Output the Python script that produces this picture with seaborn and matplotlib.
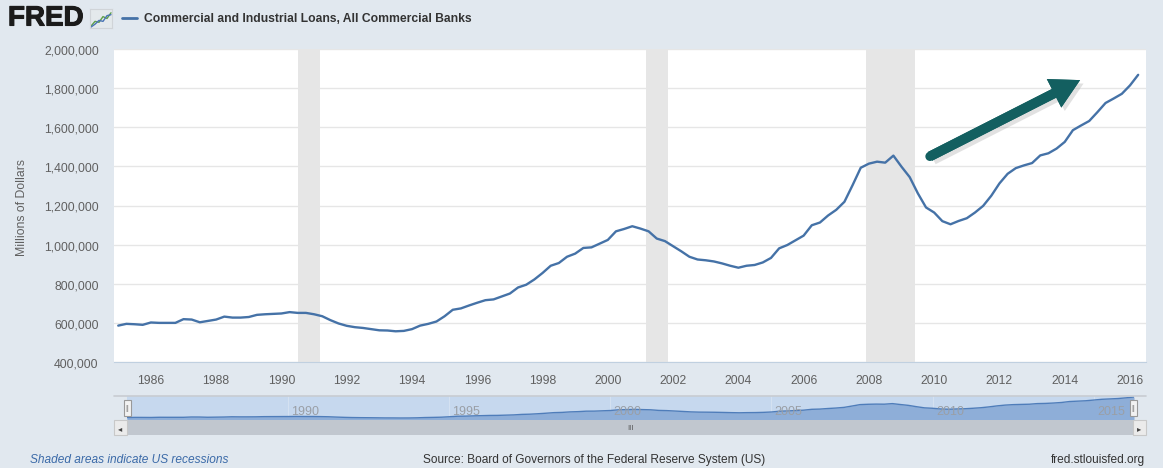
import numpy as np
import pandas as pd
import matplotlib
matplotlib.use("Agg")
import matplotlib.pyplot as plt
import seaborn as sns
from matplotlib import font_manager
from matplotlib.patches import Rectangle
from matplotlib.lines import Line2D
import matplotlib.patheffects as pe

# C&I loans, quarterly, millions of dollars (in thousands)
start_year = 1985
loans_k = [
    586, 595, 593, 590,      # 1985
    602, 600, 600, 600,      # 1986
    619, 617, 603, 610,      # 1987
    617, 632, 627, 627,      # 1988
    630, 641, 644, 646,      # 1989
    648, 655, 651, 651,      # 1990
    644, 634, 614, 597,      # 1991
    585, 578, 574, 568,      # 1992
    562, 561, 557, 559,      # 1993
    568, 586, 595, 607,      # 1994
    634, 667, 674, 689,      # 1995
    703, 716, 720, 735,      # 1996
    750, 781, 795, 822,      # 1997
    855, 892, 906, 938,      # 1998
    954, 983, 986, 1005,     # 1999
    1024, 1068, 1080, 1094,  # 2000
    1082, 1068, 1031, 1018,  # 2001
    992, 966, 938, 924,      # 2002
    920, 914, 904, 892,      # 2003
    882, 892, 896, 909,      # 2004
    932, 981, 998, 1022,     # 2005
    1046, 1099, 1113, 1149,  # 2006
    1178, 1219, 1304, 1393,  # 2007
    1414, 1424, 1419, 1455,  # 2008
    1398, 1345, 1262, 1190,  # 2009
    1164, 1120, 1104, 1121,  # 2010
    1135, 1164, 1198, 1250,  # 2011
    1313, 1362, 1391, 1405,  # 2012
    1417, 1456, 1467, 1491,  # 2013
    1525, 1585, 1609, 1632,  # 2014
    1677, 1724, 1747, 1771,  # 2015
    1814, 1868,              # 2016
]
recessions = [(1990.5, 1991.17), (2001.17, 2001.83), (2007.92, 2009.42)]
x_ticks = list(range(1986, 2017, 2))
y_ticks = list(range(400000, 2000001, 200000))
nav_ticks = [1990, 1995, 2000, 2005, 2010, 2015]
logo_a = [0.1, 0.35, 0.3, 0.6, 0.5, 0.8]
logo_b = [0.05, 0.2, 0.4, 0.35, 0.65, 0.7]

df = pd.DataFrame({
    "year": start_year + np.arange(len(loans_k)) * 0.25,
    "loans": np.array(loans_k) * 1000,
})

sns.set_style("white")
avail = {f.name for f in font_manager.fontManager.ttflist}
base_font = "Liberation Sans" if "Liberation Sans" in avail else "DejaVu Sans"
narrow_ok = "Liberation Sans Narrow" in avail
narrow_font = "Liberation Sans Narrow" if narrow_ok else base_font
plt.rcParams["font.family"] = [base_font, "DejaVu Sans"]

W, H = 1163, 477
BG = "#e1e8ef"
LINE = "#4572a7"
ARROW = "#135f60"
fig = plt.figure(figsize=(W / 100, H / 100), dpi=100, facecolor=BG)


def box(x0, y0, x1, y1):
    # pixel box (top-left origin) -> figure fraction rect
    return [x0 / W, 1 - y1 / H, (x1 - x0) / W, (y1 - y0) / H]


# === main chart ===
ax = fig.add_axes(box(114, 50, 1146, 363))
ax.set_facecolor("white")
for a, b in recessions:
    ax.axvspan(a, b, color="#e6e6e6", lw=0, zorder=0)
sns.lineplot(data=df, x="year", y="loans", ax=ax, color=LINE, linewidth=1.7, zorder=3)
ax.set_xlim(1984.87, 2016.49)
ax.set_ylim(400000, 2000000)
ax.set_xticks(x_ticks)
ax.set_yticks(y_ticks)
ax.set_yticklabels([f"{v:,}" for v in y_ticks])
ax.yaxis.grid(True, color="#e6e6e6", lw=1)
ax.xaxis.grid(False)
for s in ["left", "right", "top"]:
    ax.spines[s].set_visible(False)
ax.spines["bottom"].set_color("#c0d0e0")
ax.tick_params(axis="x", length=6, color="#c0d0e0", labelsize=8.8, labelcolor="#606060", pad=3)
ax.tick_params(axis="y", length=0, labelsize=8.8, labelcolor="#606060", pad=11)
ax.set_xlabel("")
ax.set_ylabel("")
fig.text(22 / W, 1 - 207 / H, "Millions of Dollars", rotation=90, ha="center", va="center",
         fontsize=8.8, color="#606060")

# arrow (filled shape + round tail cap), with a soft drop shadow
shadow = [pe.withSimplePatchShadow(offset=(2.5, -2.5), shadow_rgbFace="#7a7a7a", alpha=0.22),
          pe.Normal()]
tail = (2009.87, 1451000)
tip = (2014.47, 1841000)
ax.annotate("", xy=tip, xytext=tail,
            arrowprops=dict(arrowstyle="simple,head_length=2.1,head_width=2.3,tail_width=0.7",
                            facecolor=ARROW, edgecolor="none", lw=0, mutation_scale=10,
                            shrinkA=0, shrinkB=0, path_effects=shadow),
            zorder=5)
ax.plot([tail[0]], [tail[1]], marker="o", markersize=6.6, color=ARROW, mew=0, zorder=5,
        path_effects=[pe.SimpleLineShadow(offset=(2.5, -2.5), shadow_color="#7a7a7a", alpha=0.22),
                      pe.Normal()])

# === navigator ===
nav = fig.add_axes(box(127, 397, 1134, 421))
nav.set_facecolor("#c6d8ee")
ylo, yhi = 432000, 1930000
nav.fill_between(df["year"], df["loans"], ylo, color="#8eaed8", lw=0)
sns.lineplot(data=df, x="year", y="loans", ax=nav, color="#4f7dba", linewidth=1)
nav.set_xlim(df["year"].iloc[0], df["year"].iloc[-1])
nav.set_ylim(ylo, yhi)
for t in nav_ticks:
    nav.axvline(t, color="#d4e1f1", lw=0.8, zorder=0.5)
    nav.text(t + 0.1, ylo + 0.14 * (yhi - ylo), str(t), fontsize=9, color="#9a9fa6",
             family=narrow_font, ha="left", va="bottom")
nav.set_xticks([])
nav.set_yticks([])
nav.set_xlabel("")
nav.set_ylabel("")
for s in nav.spines.values():
    s.set_visible(False)
fig.add_artist(Line2D([114 / W, 1146 / W], [1 - 397 / H] * 2, color="#c8ccd2", lw=1.2))

# scrollbar
def frect(x0, y0, x1, y1, **kw):
    r = box(x0, y0, x1, y1)
    fig.add_artist(Rectangle((r[0], r[1]), r[2], r[3], transform=fig.transFigure, **kw))


frect(127, 421, 1133, 436, facecolor="#c1c7cf", edgecolor="none")
frect(114, 421, 127, 436, facecolor="#ebebeb", edgecolor="#c8c8c8", lw=0.8)
frect(1133, 421, 1146, 436, facecolor="#ebebeb", edgecolor="#c8c8c8", lw=0.8)
fig.text(120.5 / W, 1 - 428.5 / H, "◂", fontsize=6, color="#444", ha="center", va="center",
         family="DejaVu Sans")
fig.text(1139.5 / W, 1 - 428.5 / H, "▸", fontsize=6, color="#444", ha="center", va="center",
         family="DejaVu Sans")
fig.text(630 / W, 1 - 428.5 / H, "III", fontsize=5.5, color="#555", ha="center", va="center")
frect(124, 401, 131, 417, facecolor="#f2f2f2", edgecolor="#999999", lw=0.8)
frect(1130, 401, 1137, 417, facecolor="#f2f2f2", edgecolor="#999999", lw=0.8)
for hx in (127.5, 1133.5):
    fig.text(hx / W, 1 - 409 / H, "||", fontsize=5, color="#888", ha="center", va="center")

# === header ===
fig.text(8 / W, 1 - 19.5 / H, "FRED", fontsize=20, fontweight="heavy", color="#1b1b1b",
         ha="left", va="center", family=base_font,
         path_effects=[pe.withStroke(linewidth=0.8, foreground="#1b1b1b")])
logo = fig.add_axes(box(90, 10, 112, 29))
logo.set_facecolor("#e4e9ec")
logo.plot(logo_a, color="#5ea04a", lw=1)
logo.plot(logo_b, color="#4a74b5", lw=1)
logo.set_xticks([])
logo.set_yticks([])
logo.set_ylim(0, 1)
for s in logo.spines.values():
    s.set_color("#d0d4d8")
fig.add_artist(Line2D([122 / W, 137 / W], [1 - 19 / H] * 2, color=LINE, lw=2))
fig.text(144 / W, 1 - 19 / H, "Commercial and Industrial Loans, All Commercial Banks",
         fontsize=10.4 if narrow_ok else 8.7, fontweight="bold", color="#333333",
         ha="left", va="center", family=narrow_font)

# === footer ===
foot_size = 10.2 if narrow_ok else 8.6
fig.text(30 / W, 1 - 460 / H, "Shaded areas indicate US recessions", fontsize=foot_size,
         style="italic", color="#3b6aa8", ha="left", va="center", family=narrow_font)
fig.text(594 / W, 1 - 460 / H, "Source: Board of Governors of the Federal Reserve System (US)",
         fontsize=foot_size, color="#333333", ha="center", va="center", family=narrow_font)
fig.text(1145 / W, 1 - 460 / H, "fred.stlouisfed.org", fontsize=foot_size, color="#333333",
         ha="right", va="center", family=narrow_font)
frect(0, 469, 1163, 477, facecolor="white", edgecolor="none")

fig.savefig("out.png", dpi=100, facecolor=BG)
